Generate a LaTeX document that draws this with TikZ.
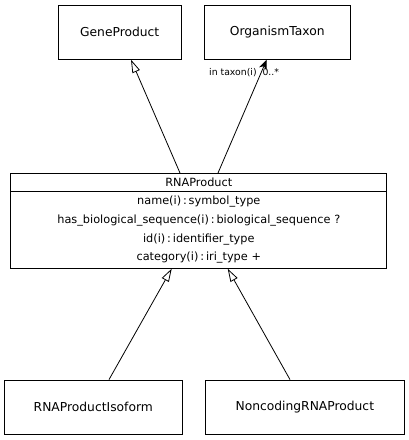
\documentclass[tikz,border=0pt]{standalone}
\usepackage{fontspec}
\setmainfont{DejaVu Sans}
\usetikzlibrary{positioning, shapes.multipart, arrows.meta}

\begin{document}
\begin{tikzpicture}[x=1pt, y=-1pt]
\tikzstyle{classblock}=[draw, thick, minimum height=54pt, inner sep=0pt, font=\fontsize{12.3}{14}\selectfont]
\tikzstyle{splitblock}=[draw, thick, rectangle split, rectangle split parts=2, text width=368pt,
align=center, inner xsep=4pt, inner ysep=4.3pt, font=\fontsize{11.3}{18.7}\selectfont]
\tikzstyle{isa}=[thick, -{Triangle[open, length=13pt, width=8pt]}]
\tikzstyle{ref}=[thick, -{Stealth[length=10pt, width=8pt, inset=3pt]}]

\useasboundingbox (0,0) rectangle (409,440);

% parents
\node (gene) [classblock, minimum width=123.4pt] at (119.7,32.3) {GeneProduct};
\node (taxon) [classblock, minimum width=145.7pt] at (277.2,32.3) {OrganismTaxon};

% class with slots
\node (rna) [splitblock, anchor=north] at (198.8,173) {RNAProduct
\nodepart{second}name(i)\,:\,symbol\_type\\
has\_biological\_sequence(i)\,:\,biological\_sequence ?\\
id(i)\,:\,identifier\_type\\
category(i)\,:\,iri\_type +};

% children
\node (iso) [classblock, minimum width=178.7pt] at (93.3,407) {RNAProductIsoform};
\node (ncrna) [classblock, minimum width=198.3pt] at (304.8,407) {NoncodingRNAProduct};

% connections
\draw[isa] ([xshift=-18.8pt]rna.north) -- ([xshift=11.3pt]gene.south);
\draw[ref] ([xshift=19.2pt]rna.north) -- ([xshift=-10.5pt]taxon.south);
\draw[isa] ([xshift=15.7pt]iso.north) -- ([xshift=-27.1pt]rna.south);
\draw[isa] ([xshift=-14.8pt]ncrna.north) -- ([xshift=28.9pt]rna.south);

\node (slot) [font=\fontsize{9.3}{11}\selectfont, inner sep=0pt, anchor=west] at (209,73) {in taxon(i) \ 0..*};
\end{tikzpicture}
\end{document}
